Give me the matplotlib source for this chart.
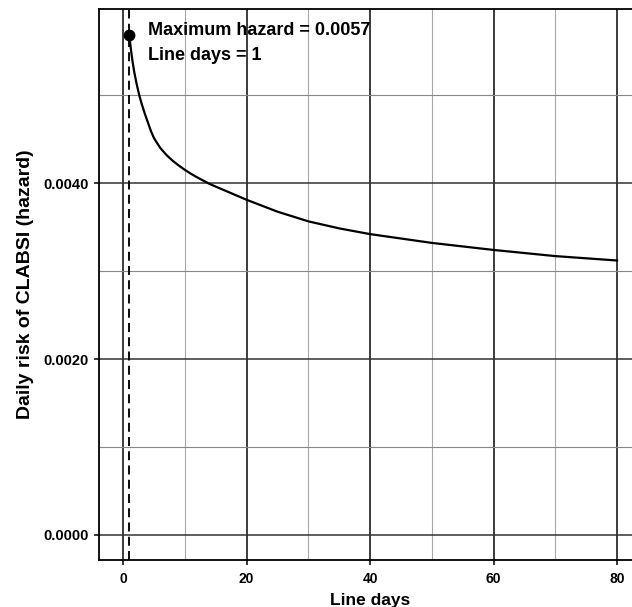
import matplotlib
matplotlib.use("Agg")
import matplotlib.pyplot as plt
from matplotlib.ticker import MultipleLocator, FormatStrFormatter

plt.rcParams['font.family'] = ['Liberation Sans', 'DejaVu Sans']
plt.rcParams['font.weight'] = 'bold'

# Data
line_days = [1, 1.25, 1.5, 1.8, 2.2, 2.6, 3, 3.5, 4, 4.5, 5, 6, 7, 8, 9, 10, 11,
             12, 14, 16, 18, 20, 25, 30, 35, 40, 50, 60, 70, 80]
hazard = [0.00568, 0.00552, 0.00539, 0.00526, 0.00512, 0.00500, 0.00490, 0.00479,
          0.00469, 0.00459, 0.00451, 0.00440, 0.00432, 0.004255, 0.0042, 0.00415,
          0.004105, 0.004065, 0.00399, 0.00393, 0.00387, 0.00381, 0.003675, 0.003565,
          0.003485, 0.00342, 0.00332, 0.00324, 0.00317, 0.00312]
max_day = 1
max_hazard = 0.00568
label_max = "Maximum hazard = 0.0057"
label_day = "Line days = 1"
x_ticks = [0, 20, 40, 60, 80]
y_ticks = [0.0, 0.002, 0.004]

fig = plt.figure(figsize=(6.32, 6.07), dpi=100)
ax = fig.add_axes([98.5 / 632, 47 / 607, (641.7 - 98.5) / 632, (560 - 8.5) / 607])

ax.set_xlim(-4, 84)
ax.set_ylim(-0.000285, 0.005985)

ax.set_xticks(x_ticks)
ax.set_yticks(y_ticks)
ax.xaxis.set_minor_locator(MultipleLocator(10))
ax.yaxis.set_minor_locator(MultipleLocator(0.001))
ax.yaxis.set_major_formatter(FormatStrFormatter('%.4f'))

ax.grid(which='major', axis='x', color='#111111', linewidth=1.15)
ax.grid(which='minor', axis='x', color='#a8a8a8', linewidth=0.8)
ax.grid(which='major', axis='y', color='#333333', linewidth=1.1)
ax.grid(which='minor', axis='y', color='#888888', linewidth=0.8)
ax.set_axisbelow(True)

ax.tick_params(which='minor', length=0)
ax.tick_params(which='major', length=3.8, width=1.1, color='black',
               labelcolor='black')
ax.tick_params(axis='x', which='major', pad=4.5, labelsize=10)
ax.tick_params(axis='y', which='major', pad=3, labelsize=10.5)
for lab in ax.get_xticklabels() + ax.get_yticklabels():
    lab.set_fontweight('bold')

for side in ['left', 'bottom', 'top', 'right']:
    ax.spines[side].set_color('black')
    ax.spines[side].set_linewidth(1.3)

ax.axvline(max_day, color='black', linewidth=1.35, linestyle=(0, (4.8, 2.8)), zorder=3)
ax.plot(line_days, hazard, color='black', linewidth=1.6, zorder=4,
        solid_joinstyle='round')
ax.plot([max_day], [max_hazard], 'o', color='black', markersize=7.5, zorder=5)

ax.text(4.05, 0.005685, label_max, fontsize=13, fontweight='bold', va='baseline', ha='left')
ax.text(4.05, 0.005394, label_day, fontsize=13, fontweight='bold', va='baseline', ha='left')

ax.set_xlabel("Line days", fontsize=12.5, fontweight='bold', labelpad=5.5)
ax.set_ylabel("Daily risk of CLABSI (hazard)", fontsize=14, fontweight='bold', labelpad=7)

fig.savefig("out.png", dpi=100)
